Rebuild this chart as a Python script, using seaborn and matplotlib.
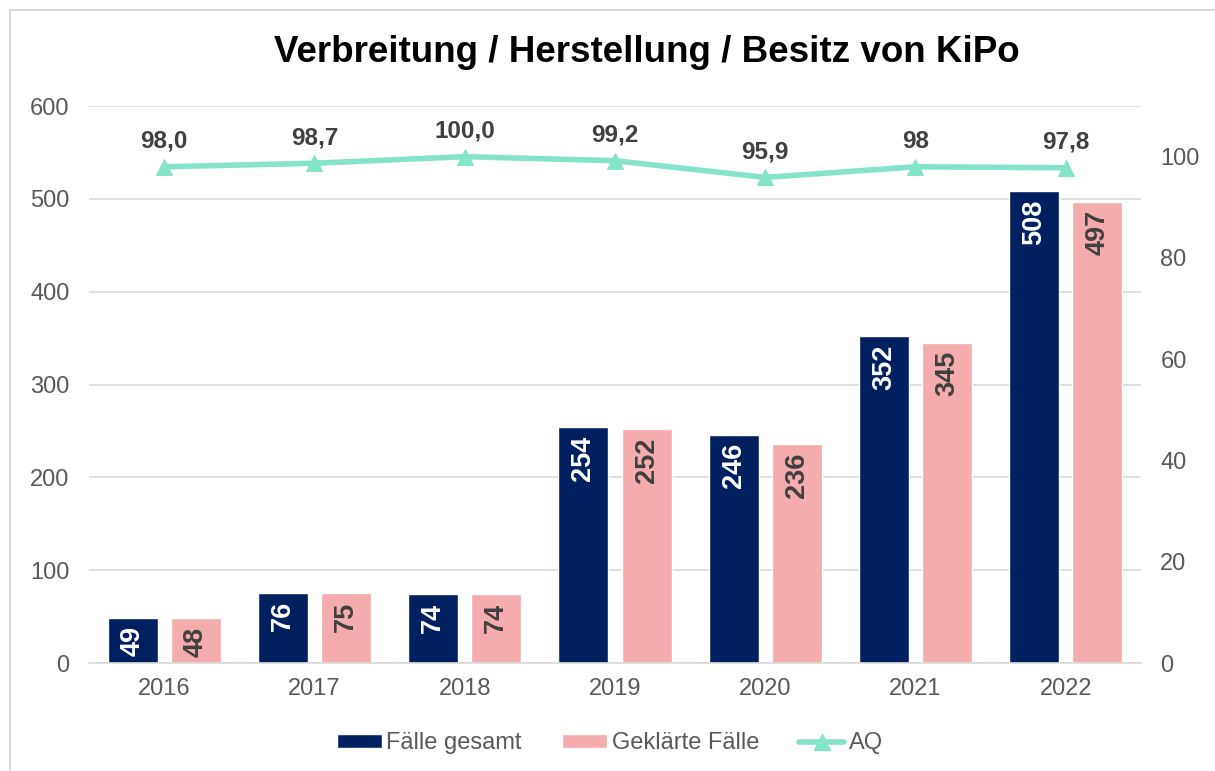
import numpy as np
import pandas as pd
import matplotlib
matplotlib.use("Agg")
import matplotlib.pyplot as plt
from matplotlib.patches import Patch
from matplotlib.lines import Line2D
import seaborn as sns

# data
years = ["2016", "2017", "2018", "2019", "2020", "2021", "2022"]
faelle_gesamt = [49, 76, 74, 254, 246, 352, 508]
geklaerte_faelle = [48, 75, 74, 252, 236, 345, 497]
aq = [98.0, 98.7, 100.0, 99.2, 95.9, 98.0, 97.8]
aq_labels = ["98,0", "98,7", "100,0", "99,2", "95,9", "98", "97,8"]

NAVY = "#002060"
PINK = "#F4ACAE"
MINT = "#84E3C8"
GRID = "#D9D9D9"
TXT = "#595959"
LBL = "#404040"

sns.set_style("white")
plt.rcParams["font.family"] = ["Liberation Sans", "DejaVu Sans"]

df = pd.DataFrame({
    "Jahr": years * 2,
    "Wert": faelle_gesamt + geklaerte_faelle,
    "Serie": ["Fälle gesamt"] * len(years) + ["Geklärte Fälle"] * len(years),
})

fig = plt.figure(figsize=(12.15, 7.71), dpi=100)
ax = fig.add_axes([0.0733, 0.140, 0.8657, 0.7225])

sns.barplot(data=df, x="Jahr", y="Wert", hue="Serie",
            palette=[NAVY, PINK], width=0.84, gap=0.207,
            saturation=1, ax=ax, legend=False)

ax.set_ylim(0, 600)
ax.set_yticks(range(0, 601, 100))
ax.set_xlim(-0.5, len(years) - 0.5)
ax.yaxis.grid(True, color=GRID, linewidth=1.2)
ax.set_axisbelow(True)
ax.set_xlabel("")
ax.set_ylabel("")
for s in ["top", "right", "left"]:
    ax.spines[s].set_visible(False)
ax.spines["bottom"].set_color(GRID)
ax.spines["bottom"].set_linewidth(1.2)
ax.tick_params(axis="y", length=0, pad=14, labelsize=17, labelcolor=TXT)
ax.tick_params(axis="x", length=0, pad=11, labelsize=17, labelcolor=TXT)

# rotated value labels inside bar tops
for cont, col in zip(ax.containers, ["white", LBL]):
    for p in cont.patches:
        h = p.get_height()
        ax.annotate(f"{int(round(h))}", (p.get_x() + p.get_width() / 2, h),
                    xytext=(0, -6), textcoords="offset points",
                    ha="center", va="top", rotation=90,
                    fontsize=19.5, fontweight="bold", color=col)

ax2 = ax.twinx()
xs = np.arange(len(years))
sns.lineplot(x=xs, y=aq, ax=ax2, color=MINT, linewidth=4,
             marker="^", markersize=11, markeredgecolor=MINT)
ax2.set_ylim(0, 110)
ax2.set_yticks(range(0, 101, 20))
for s in ["top", "right", "left", "bottom"]:
    ax2.spines[s].set_visible(False)
ax2.tick_params(axis="y", length=0, pad=14, labelsize=17, labelcolor=TXT)
ax2.set_ylabel("")
for x, v, t in zip(xs, aq, aq_labels):
    ax2.annotate(t, (x, v), xytext=(0, 10), textcoords="offset points",
                 ha="center", va="bottom", fontsize=17.5,
                 fontweight="bold", color=LBL)

fig.text(0.532, 0.932, "Verbreitung / Herstellung / Besitz von KiPo",
         ha="center", va="center", fontsize=26.5, fontweight="bold", color="black")

handles = [
    Patch(facecolor=NAVY, label="Fälle gesamt"),
    Patch(facecolor=PINK, label="Geklärte Fälle"),
    Line2D([0], [0], color=MINT, linewidth=4, marker="^", markersize=11,
           label="AQ"),
]
leg = fig.legend(handles=handles, loc="center", bbox_to_anchor=(0.502, 0.036),
                 ncol=3, frameon=False, fontsize=17, handlelength=1.9,
                 handleheight=0.55, columnspacing=1.7, handletextpad=0.2)
for t in leg.get_texts():
    t.set_color(TXT)

# chart frame (left and top edges visible in the crop)
fig.add_artist(Line2D([0.0086, 0.0086], [0, 0.987], color=GRID, linewidth=1.5,
                      transform=fig.transFigure))
fig.add_artist(Line2D([0.0086, 1.0], [0.987, 0.987], color=GRID, linewidth=1.5,
                      transform=fig.transFigure))

fig.savefig("out.png", dpi=100)
